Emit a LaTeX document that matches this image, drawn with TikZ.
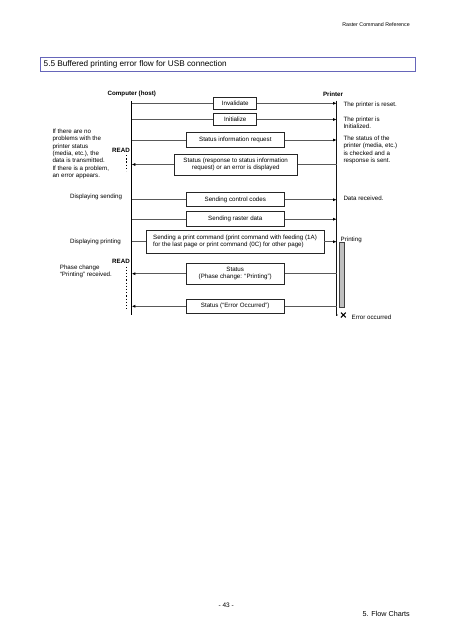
\documentclass[tikz,border=0pt]{standalone}
\usepackage{fontspec}
\setmainfont{Liberation Sans}
\usetikzlibrary{arrows.meta}
\begin{document}
\begin{tikzpicture}[x=1pt,y=-1pt,
  txt/.style={inner sep=0pt,font=\fontsize{6.2}{7.3}\selectfont},
  lbl/.style={txt,align=left,anchor=west},
  msg/.style={draw=black!85,line width=0.7pt,inner sep=1pt,align=center,font=\fontsize{6.2}{7.3}\selectfont},
  conn/.style={draw=black!65,line width=0.8pt},
  tip/.style={-{Latex[length=3.6pt,width=3pt,black]}},
  readdots/.style={draw=black,line width=1.3pt,dash pattern=on 1.3pt off 1.9pt},
  hdr/.style={txt,font=\bfseries\fontsize{6.2}{7.3}\selectfont},
  solidline/.style={draw=black,line width=1.2pt,dash pattern=on 400pt off 1pt}
]
\useasboundingbox (0,0) rectangle (453,640);
\fill[white] (0,0) rectangle (453,640);

% header and title
\node[txt,anchor=east,font=\fontsize{5.3}{6}\selectfont] (head) at (410,25) {Raster Command Reference};
\node[draw=black!45!blue!60,line width=0.6pt,minimum width=375pt,minimum height=14pt,inner sep=0pt] (tbox) at (227.5,64) {};
\node[txt,anchor=west,font=\fontsize{8.2}{9}\selectfont] (title) at (43.5,64) {5.5 Buffered printing error flow for USB connection};

\node[hdr] (comp) at (131.8,93.5) {Computer (host)};
\node[hdr] (prin) at (333,94) {Printer};
\coordinate (Ct) at (131.7,101);
\coordinate (Cb) at (131.7,315);
\coordinate (Pt) at (336.7,100.5);
\coordinate (Pb) at (336.7,315);
\path[solidline] (Ct) -- (Cb);
\draw[black!92,line width=1.2pt] (Pt) -- (Pb) -- (336.71,315);

% messages
\node[msg,minimum width=43pt,minimum height=12pt] (inv) at (235.2,103.3) {Invalidate};
\node[msg,minimum width=43pt,minimum height=12.4pt] (ini) at (235.2,119.5) {Initialize};
\node[msg,minimum width=98pt,minimum height=14.6pt] (sreq) at (235.3,140) {Status information request};
\node[msg,minimum width=123pt,minimum height=21pt] (sresp) at (235.7,164.5) {Status (response to status information\\request) or an error is displayed};
\node[msg,minimum width=98pt,minimum height=14pt] (ctrl) at (235.3,199.7) {Sending control codes};
\node[msg,minimum width=98pt,minimum height=15pt] (rast) at (235.3,219.2) {Sending raster data};
\node[msg,minimum width=178pt,minimum height=23.3pt,align=left] (pcmd) at (235,241.7) {Sending a print command (print command with feeding (1A)\\for the last page or print command (0C) for other page)};
\node[msg,minimum width=98pt,minimum height=21pt] (phase) at (235.2,273.7) {Status\\(Phase change: “Printing”)};
\node[msg,minimum width=98pt,minimum height=14.7pt] (err) at (235.2,306.3) {Status (“Error Occurred”)};

% connectors host -> printer
\foreach \n in {inv,ini,sreq,ctrl,rast,pcmd}{
  \path[conn] (\n.west -| Ct) -- (\n.west);
  \path[conn,tip] (\n.east) -- (\n.east -| Pt);
}
% connectors printer -> host
\foreach \n in {sresp,phase,err}{
  \path[conn] (\n.east -| Pt) -- (\n.east);
  \path[conn,tip] (\n.west) -- (\n.west -| Ct);
}

% printing bar
\node[draw=black!75,line width=0.6pt,fill=black!25,minimum width=5pt,minimum height=64.6pt,inner sep=0pt] (bar) at (341.5,274.6) {};
\node[txt,anchor=west] (printing) at (340.5,239.5) {Printing};
\draw[line width=1.1pt] (340.9,312.6) -- (345.7,317.4) (340.9,317.4) -- (345.7,312.6);
\node[txt,anchor=west] (erroc) at (351.5,317.5) {Error occurred};

% printer notes
\node[lbl] (n1) at (343.3,105.3) {The printer is reset.};
\node[lbl,anchor=north west] (n2) at (343.3,116.5) {The printer is\\Initialized.};
\node[lbl,anchor=north west] (n3) at (343.3,135.8) {The status of the\\printer (media, etc.)\\is checked and a\\response is sent.};
\node[lbl] (n4) at (343.3,198.6) {Data received.};

% host notes
\node[lbl,anchor=north west] (h1) at (52.3,128.9) {If there are no\\problems with the\\printer status\\(media, etc.), the\\data is transmitted.\\If there is a problem,\\an error appears.};
\node[hdr,anchor=east] (read1) at (130,150) {READ};
\path[readdots] (126.7,155) -- (126.7,171);
\node[txt,anchor=east] (ds) at (122.3,197.3) {Displaying sending};
\node[txt,anchor=east] (dp) at (121,242.3) {Displaying printing};
\node[hdr,anchor=east] (read2) at (130,261.7) {READ};
\node[lbl,anchor=north west] (h2) at (59.7,264.8) {Phase change\\“Printing” received.};
\path[readdots] (126.7,266.5) -- (126.7,310);

% footer
\node[txt,font=\fontsize{6.5}{7}\selectfont] (pg) at (226.2,605) {- 43 -};
\node[txt,anchor=east,font=\fontsize{7.2}{8}\selectfont] (ch) at (410,614.3) {5. Flow Charts};
\end{tikzpicture}
\end{document}
